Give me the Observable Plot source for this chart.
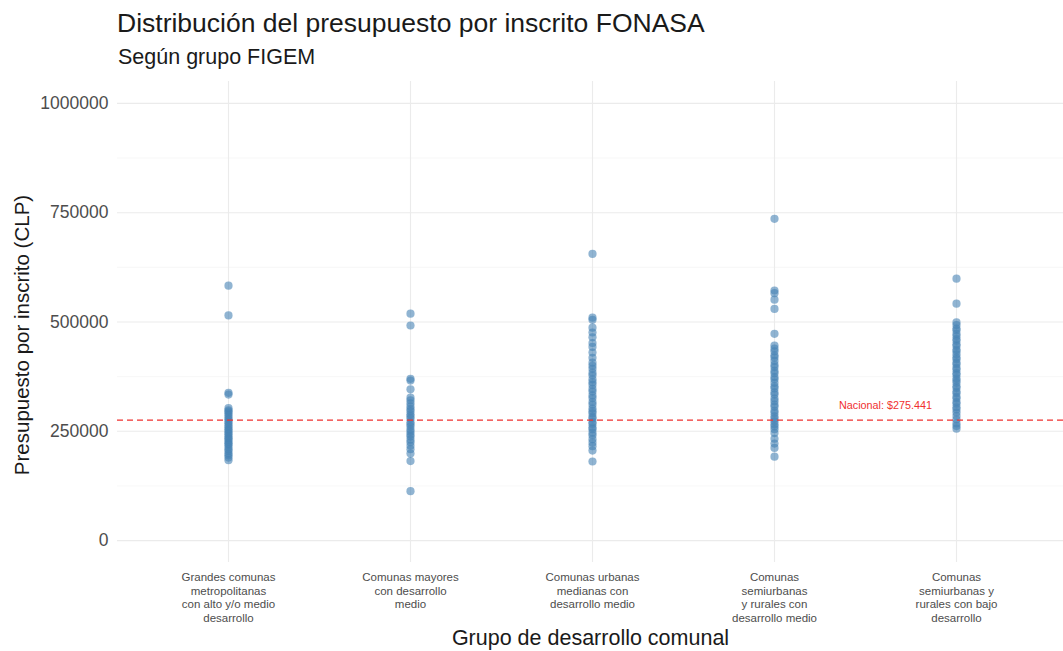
<!DOCTYPE html>
<html>
<head>
<meta charset="utf-8">
<script src="https://cdn.jsdelivr.net/npm/d3@7"></script>
<script src="https://cdn.jsdelivr.net/npm/@observablehq/plot@0.6"></script>
<style>
  html, body { margin: 0; padding: 0; background: #fff; }
  body { width: 1063px; height: 651px; overflow: hidden; font-family: "Liberation Sans", Arial, sans-serif; }
  #header { position: relative; height: 75px; }
  #title { position: absolute; left: 117px; top: 10px; font-size: 26.5px; line-height: 26.5px; color: #1a1a1a; white-space: nowrap; }
  #subtitle { position: absolute; left: 118px; top: 47px; font-size: 21.5px; line-height: 21.5px; color: #1a1a1a; white-space: nowrap; }
</style>
</head>
<body>
<div id="header">
  <div id="title">Distribución del presupuesto por inscrito FONASA</div>
  <div id="subtitle">Según grupo FIGEM</div>
</div>
<div id="chart"></div>
<script>
const groups = [
  "Grandes comunas metropolitanas con alto y/o medio desarrollo",
  "Comunas mayores con desarrollo medio",
  "Comunas urbanas medianas con desarrollo medio",
  "Comunas semiurbanas y rurales con desarrollo medio",
  "Comunas semiurbanas y rurales con bajo desarrollo"
];
const groupLabels = [
  "Grandes comunas\nmetropolitanas\ncon alto y/o medio\ndesarrollo",
  "Comunas mayores\ncon desarrollo\nmedio",
  "Comunas urbanas\nmedianas con\ndesarrollo medio",
  "Comunas\nsemiurbanas\ny rurales con\ndesarrollo medio",
  "Comunas\nsemiurbanas y\nrurales con bajo\ndesarrollo"
];
const g1 = [583000, 515000, 338000, 334000, 303000, 298000, 295000, 291000, 286000, 281000, 277000, 272000, 268000, 263000, 259000, 254000, 251000, 246000, 243000, 238000, 234000, 231000, 226000, 222000, 219000, 214000, 209000, 205000, 199000, 195000, 190000, 184000];
const g2 = [519000, 492000, 370000, 366000, 346000, 327000, 321000, 314000, 307000, 301000, 296000, 289000, 284000, 279000, 271000, 266000, 261000, 254000, 249000, 243000, 238000, 231000, 225000, 217000, 209000, 199000, 182000, 113000];
const g3 = [656000, 510000, 505000, 487000, 476000, 465000, 452000, 443000, 430000, 418000, 407000, 400000, 393000, 384000, 378000, 369000, 362000, 356000, 347000, 341000, 332000, 326000, 317000, 311000, 302000, 296000, 291000, 283000, 279000, 271000, 267000, 259000, 255000, 247000, 241000, 232000, 224000, 216000, 206000, 181000];
const g4 = [736000, 572000, 566000, 551000, 530000, 473000, 446000, 439000, 433000, 424000, 419000, 411000, 402000, 397000, 388000, 383000, 374000, 369000, 361000, 353000, 348000, 339000, 334000, 325000, 319000, 311000, 306000, 297000, 292000, 284000, 279000, 273000, 266000, 261000, 255000, 246000, 233000, 222000, 212000, 192000];
const g5 = [599000, 542000, 499000, 493000, 485000, 481000, 473000, 468000, 461000, 457000, 449000, 445000, 437000, 433000, 426000, 419000, 415000, 407000, 403000, 395000, 391000, 383000, 379000, 371000, 366000, 361000, 353000, 349000, 341000, 337000, 329000, 325000, 317000, 313000, 305000, 300000, 293000, 285000, 277000, 268000, 262000, 256000];
const nacional = 275441;
const nacionalLabel = "Nacional: $275.441";
const yMajor = [0, 250000, 500000, 750000, 1000000];
const yMinor = [125000, 375000, 625000, 875000];

const series = [g1, g2, g3, g4, g5];
const data = series.flatMap((vals, i) => vals.map(v => ({grupo: groups[i], valor: v})));

const chart = Plot.plot({
  width: 1063,
  height: 576,
  marginLeft: 117,
  marginRight: 0,
  marginTop: 6,
  marginBottom: 89,
  style: {fontFamily: "Liberation Sans, Arial, sans-serif", background: "#fff"},
  x: {type: "point", domain: groups, range: [226, 957], padding: 0, axis: null},
  y: {domain: [-50000, 1050000], axis: null},
  marks: [
    Plot.ruleY(yMinor, {stroke: "#f2f2f2", strokeWidth: 0.6}),
    Plot.ruleY(yMajor, {stroke: "#ebebeb", strokeWidth: 1.1}),
    Plot.ruleX(groups, {x: d => d, stroke: "#ebebeb", strokeWidth: 1.1}),
    Plot.axisY({ticks: yMajor, tickSize: 0, tickPadding: 9, tickFormat: d => String(d), fontSize: 17.5, color: "#4d4d4d", label: null}),
    Plot.axisX({ticks: groups, tickSize: 0, tickPadding: 9, tickFormat: d => groupLabels[groups.indexOf(d)], fontSize: 11.5, lineHeight: 1.18, color: "#4d4d4d", label: null, textAnchor: "middle"}),
    Plot.dot(data, {x: "grupo", y: "valor", r: 4.1, fill: "#4682b4", fillOpacity: 0.6, stroke: "none"}),
    Plot.ruleY([nacional], {stroke: "#f0302f", strokeWidth: 1.2, strokeDasharray: "6,4"}),
    Plot.text([nacionalLabel], {x: () => groups[4], y: () => nacional, text: d => d, dx: -71, dy: -15, fill: "#f0302f", fontSize: 10.8}),
    Plot.text(["Grupo de desarrollo comunal"], {frameAnchor: "bottom", dy: 82, text: d => d, fontSize: 21.5, fill: "#1a1a1a"}),
    Plot.text(["Presupuesto por inscrito (CLP)"], {frameAnchor: "left", textAnchor: "middle", dx: -95, dy: 13, rotate: -90, text: d => d, fontSize: 20.5, fill: "#1a1a1a"})
  ]
});
document.getElementById("chart").appendChild(chart);
</script>
</body>
</html>
